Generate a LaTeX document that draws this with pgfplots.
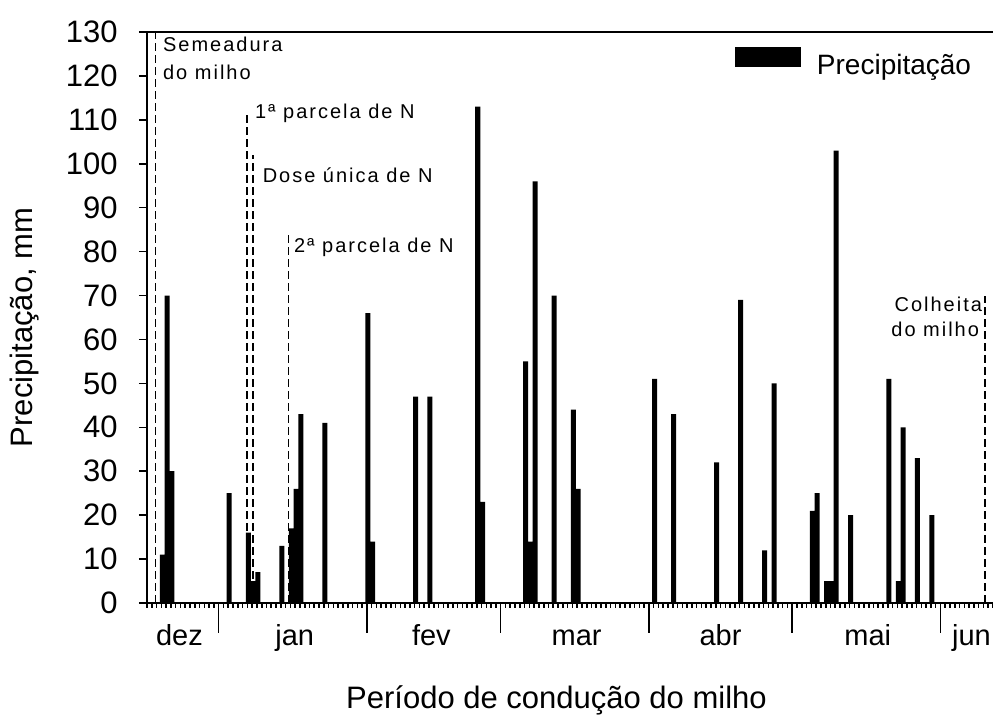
\documentclass[border=0pt]{standalone}
\usepackage{fontspec}
\setmainfont{Liberation Sans}
\newfontfamily\annfont[LetterSpace=10]{Liberation Sans}
\usepackage{pgfplots}
\pgfplotsset{compat=1.18}
\usepackage{pgfplotstable}

% day counted from 1 December (day 0)
\pgfplotstableread{
day val
19 11
20 70
21 30
33 25
37 16
38 5
39 7
44 13
46 17
47 26
48 43
53 41
62 66
63 14
72 47
75 47
85 113
86 23
95 55
96 14
97 96
101 70
105 44
106 26
122 51
126 43
135 32
140 69
145 12
147 50
155 21
156 25
158 5
159 5
160 103
163 20
171 51
173 5
174 40
177 33
180 20
}\raintable

\pgfplotsset{
  base/.style={at={(0,0)}, anchor=south west,
    width=423pt, height=285.5pt, scale only axis,
    xmin=16, xmax=193, ymin=0, ymax=130, clip=false},
  evline/.style={black, line width=0.9pt, dash pattern=on 4pt off 2pt, forget plot},
}
\newcommand{\ann}{\annfont\fontsize{10}{12}\selectfont}

\begin{document}
\begin{tikzpicture}
% main axis
\begin{axis}[base,
  axis lines=left,
  axis line style={-, line width=1.1pt, black},
  tick align=outside,
  major tick length=4pt,
  tick style={black, line width=0.8pt},
  ytick={0,10,...,130},
  xtick=\empty,
  /pgf/number format/assume math mode=true,
  yticklabel style={anchor=east, inner sep=0pt, xshift=-10.5pt,
    font=\fontsize{15.5}{18}\selectfont},
  xlabel={Período de condução do milho},
  ylabel={Precipitação, mm},
  label style={font=\fontsize{15.5}{18}\selectfont},
  xlabel style={at={(axis description cs:0.484,-0.1856)}, anchor=base, inner sep=0pt},
  ylabel style={at={(axis description cs:-0.1442,0.4825)}, anchor=center, inner sep=0pt},
  legend style={at={(axis description cs:0.695,0.947)}, anchor=west,
    draw=none, fill=none, inner sep=0pt, outer sep=0pt,
    nodes={inner sep=0pt}, font=\fontsize{14}{16}\selectfont,
    /tikz/every odd column/.append style={column sep=8pt}},
  legend image code/.code={\fill[black] (0pt,-0.5pt) rectangle (33pt,9.5pt);},
]
\addplot[ybar, bar width=1.05, bar shift=0pt, fill=black, draw=none]
  table[x expr=\thisrow{day}+0.2, y=val] {\raintable};
\addlegendentry{Precipitação}

\addplot[evline] coordinates {(17.76,0) (17.76,130)};
\addplot[evline] coordinates {(36.9,0) (36.9,112)};
\addplot[evline] coordinates {(38.2,0) (38.2,102)};
\addplot[evline] coordinates {(45.6,0) (45.6,84)};
\addplot[evline] coordinates {(191.4,0) (191.4,70)};

\node[anchor=base west, inner sep=0pt, font=\ann] at (axis cs:19.29,125.6) {Semeadura};
\node[anchor=base west, inner sep=0pt, font=\ann] at (axis cs:19.29,119.2) {do milho};
\node[anchor=base west, inner sep=0pt, font=\ann] at (axis cs:38.53,110.3) {1ª parcela de N};
\node[anchor=base west, inner sep=0pt, font=\ann] at (axis cs:40.14,95.7) {Dose única de N};
\node[anchor=base west, inner sep=0pt, font=\ann] at (axis cs:46.69,79.8) {2ª parcela de N};
\node[anchor=base east, inner sep=0pt, font=\ann] at (axis cs:190.78,66.3) {Colheita};
\node[anchor=base east, inner sep=0pt, font=\ann] at (axis cs:190.16,60.6) {do milho};

\draw[black, line width=1.1pt] (rel axis cs:0,1) -- (rel axis cs:1,1);
\end{axis}

% month boundary ticks and daily minor ticks
\begin{axis}[base,
  axis x line*=bottom, axis y line=none,
  axis line style={draw=none},
  tick align=outside,
  major tick length=15pt,
  minor tick length=2.5pt,
  tick style={black, line width=0.8pt},
  xtick={31,62,90,121,151,182},
  minor xtick={16,...,193},
  xticklabels={},
]
\end{axis}

% month names
\begin{axis}[base,
  axis x line*=bottom, axis y line=none,
  axis line style={draw=none},
  major tick length=0pt,
  tick style={draw=none},
  xtick={22.8,46.9,75.5,105.9,136,166.8,188.5},
  xticklabels={dez,jan,fev,mar,abr,mai,jun},
  xticklabel style={anchor=base, inner sep=0pt, yshift=-21.5pt,
    font=\fontsize{14.5}{17}\selectfont},
]
\end{axis}

\pgfresetboundingbox
\useasboundingbox (-73.5pt,-57pt) rectangle (423pt,301.5pt);
\end{tikzpicture}
\end{document}
